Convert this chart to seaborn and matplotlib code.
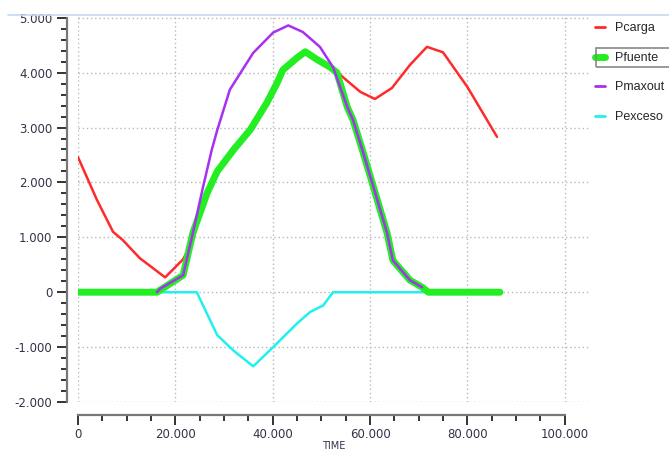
import pandas as pd
import matplotlib.pyplot as plt
import seaborn as sns
from matplotlib.lines import Line2D
from matplotlib.patches import Rectangle
from matplotlib.ticker import MultipleLocator, FixedLocator, FuncFormatter

# series (TIME, value)
pcarga_t = [0, 3900, 7200, 9200, 12700, 17900, 21600, 23500, 26500, 28600, 32000, 35400,
            38800, 40900, 42100, 45000, 46700, 49100, 51800, 53200, 58000, 61000, 64500,
            68200, 71700, 75000, 80000, 86100]
pcarga = [2460, 1680, 1100, 950, 620, 270, 600, 920, 1800, 2200, 2600, 2960,
          3450, 3810, 4050, 4270, 4380, 4240, 4100, 4010, 3650, 3520, 3720,
          4140, 4470, 4370, 3740, 2830]

pfuente_t = [0, 16200, 21600, 23600, 26500, 28600, 32000, 35400, 38800, 40900, 42100,
             45000, 46700, 49100, 51800, 53200, 55300, 56500, 58600, 61500, 63500, 64700,
             68200, 70700, 72000, 86700]
pfuente = [0, 0, 310, 1080, 1800, 2200, 2600, 2960, 3450, 3810, 4050,
           4270, 4380, 4240, 4100, 4000, 3380, 3140, 2540, 1680, 1080, 580,
           220, 90, 0, 0]

pmax_t = [16200, 17000, 21600, 23600, 25700, 27500, 28600, 31200, 36000, 40100, 43200,
          46200, 49700, 52400, 55300, 56500, 58600, 61500, 63500, 64700, 68200, 70700]
pmaxout = [0, 70, 310, 1080, 1920, 2600, 2950, 3690, 4360, 4730, 4860,
           4740, 4470, 4100, 3380, 3140, 2540, 1680, 1080, 580, 220, 90]

pexc_t = [0, 24400, 26500, 28600, 31900, 36000, 40100, 45000, 47700, 50400, 52400, 86700]
pexceso = [0, 0, -390, -780, -1060, -1350, -1000, -570, -360, -240, 0, 0]

sns.set_style("white")
plt.rcParams["font.family"] = ["DejaVu Sans"]

fig = plt.figure(figsize=(6.69, 4.55), dpi=100)
ax = fig.add_axes([78 / 669, 53 / 455, 512 / 669, 387 / 455])

sns.lineplot(x=pcarga_t, y=pcarga, color="#ff2a2a", lw=1.8, label="Pcarga", ax=ax, zorder=2)
sns.lineplot(x=pexc_t, y=pexceso, color="#22f0f0", lw=1.8, label="Pexceso", ax=ax, zorder=3)
sns.lineplot(x=pfuente_t, y=pfuente, color="#22ee22", lw=5, label="Pfuente", ax=ax, zorder=4)
sns.lineplot(x=pmax_t, y=pmaxout, color="#a830f0", lw=1.8, label="Pmaxout", ax=ax, zorder=5)

ax.set_xlim(0, 105200)
ax.set_ylim(-2000, 5050)
ax.xaxis.set_major_locator(FixedLocator(list(range(0, 100001, 20000))))
ax.xaxis.set_minor_locator(FixedLocator(list(range(0, 100001, 5000))))
ax.yaxis.set_major_locator(MultipleLocator(1000))
ax.yaxis.set_minor_locator(FixedLocator(list(range(-2000, 5001, 200))))
fmt = FuncFormatter(lambda v, p: f"{int(round(v)):,}".replace(",", "."))
ax.xaxis.set_major_formatter(fmt)
ax.yaxis.set_major_formatter(fmt)

ax.grid(True, which="major", ls=(0, (1, 2)), color="#b8b8b8", lw=1)

for s in ["top", "right"]:
    ax.spines[s].set_visible(False)
ax.spines["left"].set_position(("outward", 8))
ax.spines["bottom"].set_position(("outward", 9))
ax.spines["left"].set_bounds(-2000, 5000)
ax.spines["bottom"].set_bounds(0, 100000)
for s in ["left", "bottom"]:
    ax.spines[s].set_color("#777777")
    ax.spines[s].set_linewidth(1.6)

ax.tick_params(which="major", length=7, width=1.4, color="#333333",
               labelsize=8.5, labelcolor="#333348", pad=3.5, left=True, bottom=True)
ax.tick_params(axis="x", which="major", pad=3)
ax.tick_params(which="minor", length=4, width=1.4, color="#333333", left=True, bottom=True)

ax.set_xlabel("TIME", fontsize=7, color="#333348", labelpad=0)
ax.set_ylabel("")

fig.add_artist(Line2D([0.012, 1.0], [440 / 455, 440 / 455], color="#c6d9f0", lw=1.2))

handles, labels = ax.get_legend_handles_labels()
order = ["Pcarga", "Pfuente", "Pmaxout", "Pexceso"]
hmap = dict(zip(labels, handles))
leg = ax.legend([hmap[k] for k in order], order, loc="upper left",
                bbox_to_anchor=(0.995, 1.0), frameon=False,
                prop={"family": "Liberation Sans", "size": 9},
                handlelength=0.8, handletextpad=0.8, labelspacing=1.4, borderaxespad=0.2)
for h in leg.legend_handles:
    h.set_linewidth(2)
leg.legend_handles[1].set_linewidth(5)

# selection box around the Pfuente entry
fig.add_artist(Rectangle((596 / 669, 388 / 455), 80 / 669, 19 / 455, fill=False,
                         edgecolor="#888888", lw=1.2, transform=fig.transFigure))

fig.savefig("out.png", dpi=100)
